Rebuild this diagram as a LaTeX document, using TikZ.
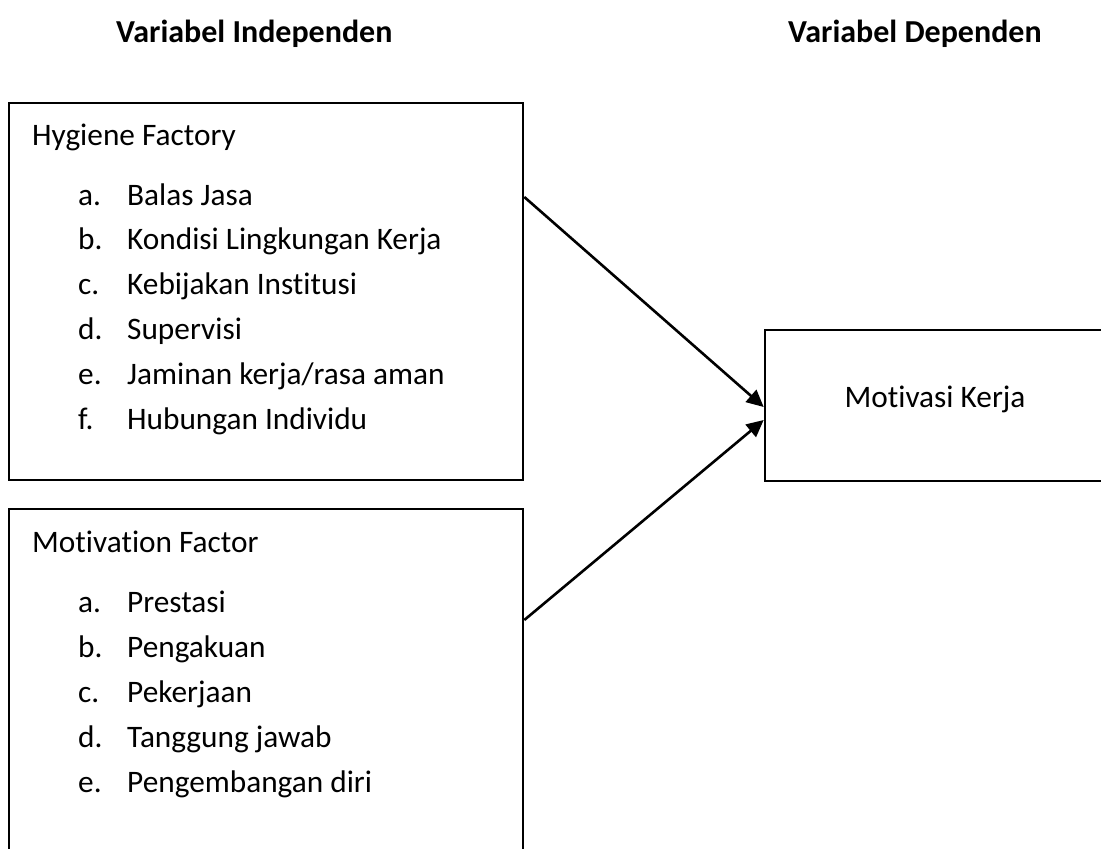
\documentclass[tikz,border=0pt]{standalone}
\usepackage{fontspec}
\setmainfont{Carlito}[Ligatures=NoCommon]
\usetikzlibrary{arrows.meta}
\begin{document}
\begin{tikzpicture}[x=1pt,y=-1pt,
  box/.style={draw=black,line width=2.6pt,rectangle,inner sep=0pt,fill=none},
  txt/.style={anchor=base west,inner sep=0pt,font=\fontsize{31.3}{36}\selectfont},
  hdr/.style={anchor=base west,inner sep=0pt,font=\fontsize{32}{36}\selectfont\bfseries},
  arr/.style={line width=2.6pt,-{Triangle[length=17pt,width=16pt]}}]
\useasboundingbox (0,0) rectangle (1101,849);
\clip (0,0) rectangle (1101,849);
\fill[white] (0,0) rectangle (1101,849);
\node[hdr] (h1) at (116,42) {Variabel Independen};
\node[hdr] (h2) at (788,42) {Variabel Dependen};
\node[box,minimum width=514pt,minimum height=377pt] (hyg) at (266,291.5) {};
\node[box,minimum width=514pt,minimum height=361pt] (motf) at (266,689.5) {};
\node[box,minimum width=350pt,minimum height=151pt] (mk) at (940,405.5) {};
\node[txt] (t1) at (32,145) {Hygiene Factory};
\foreach \l/\s [count=\i from 0] in {a./Balas Jasa,b./Kondisi Lingkungan Kerja,c./Kebijakan Institusi,d./Supervisi,e./{Jaminan kerja/rasa aman},f./Hubungan Individu}{
  \node[txt] (ha\i) at (78,205+44.8*\i) {\l};
  \node[txt] (hb\i) at (127,205+44.8*\i) {\s};
}
\node[txt] (t2) at (32,552) {Motivation Factor};
\foreach \l/\s [count=\i from 0] in {a./Prestasi,b./Pengakuan,c./Pekerjaan,d./Tanggung jawab,e./Pengembangan diri}{
  \node[txt] (ma\i) at (78,612+45*\i) {\l};
  \node[txt] (mb\i) at (127,612+45*\i) {\s};
}
\node[txt,anchor=base] (mkt) at (935,407) {Motivasi Kerja};
\draw[arr] ([yshift=94.5pt]hyg.east) -- ([yshift=-1.5pt]mk.west);
\draw[arr] ([yshift=69.5pt]motf.east) -- ([yshift=-14.5pt]mk.west);
\end{tikzpicture}
\end{document}
